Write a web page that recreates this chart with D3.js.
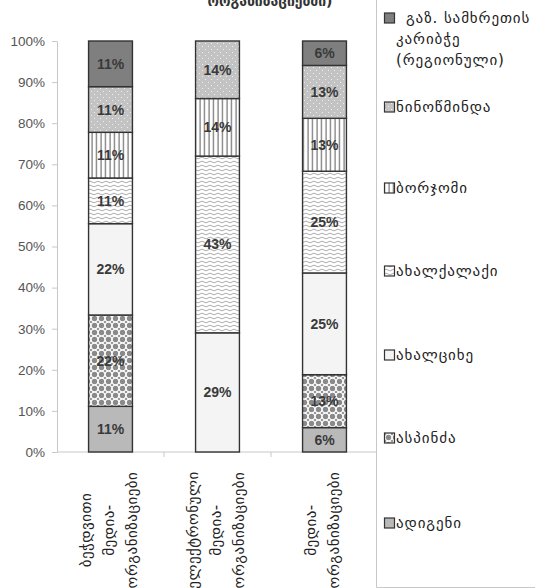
<!DOCTYPE html>
<html><head><meta charset="utf-8">
<script src="https://cdn.jsdelivr.net/npm/d3@7"></script>
<style>
html,body{margin:0;padding:0;background:#fff;}
svg{display:block;}
</style></head>
<body>
<svg id="chart" width="535" height="588"></svg>
<script>
// ---- data ----
const title = "ორგანიზაციებში)";
const categories = [
  ["ბეჭდვითი", "მედია-", "ორგანიზაციები"],
  ["ელექტრონული", "მედია-", "ორგანიზაციები"],
  ["მედია-", "ორგანიზაციები"]
];
// series listed bottom of stack -> top
const seriesNames = ["ადიგენი", "ასპინძა", "ახალციხე", "ახალქალაქი", "ბორჯომი", "ნინოწმინდა", "გაზ. სამხრეთის კარიბჭე (რეგიონული)"];
const adigeni     = [11, 0, 6];
const aspindza    = [22, 0, 13];
const akhaltsikhe = [22, 29, 25];
const akhalkalaki = [11, 43, 25];
const borjomi     = [11, 14, 13];
const ninotsminda = [11, 14, 13];
const samkhretis  = [11, 0, 6];
const seriesValues = [adigeni, aspindza, akhaltsikhe, akhalkalaki, borjomi, ninotsminda, samkhretis];
const yTicks = [0, 0.1, 0.2, 0.3, 0.4, 0.5, 0.6, 0.7, 0.8, 0.9, 1.0];

// ---- build ----
const svg = d3.select("#chart");
const geo = "'DejaVu Sans',sans-serif";
const defs = svg.append("defs");

function pat(id, w, h, bg) {
  const p = defs.append("pattern").attr("id", id).attr("patternUnits", "userSpaceOnUse")
    .attr("width", w).attr("height", h);
  p.append("rect").attr("width", w).attr("height", h).attr("fill", bg);
  return p;
}
pat("p6", 4, 4, "#7f7f7f");
{ const p = pat("p5", 6, 6, "#c3c3c3");
  p.append("rect").attr("x", 1).attr("y", 1).attr("width", 1).attr("height", 1).attr("fill", "#eeeeee");
  p.append("rect").attr("x", 4).attr("y", 4).attr("width", 1).attr("height", 1).attr("fill", "#eeeeee"); }
{ const p = pat("p4", 4.5, 4, "#ffffff");
  p.append("rect").attr("x", 1.5).attr("y", 0).attr("width", 1).attr("height", 4).attr("fill", "#555"); }
{ const p = pat("p3", 8, 4, "#ffffff");
  p.append("path").attr("d", "M0,2 Q2,0.3 4,2 T8,2").attr("fill", "none").attr("stroke", "#959595").attr("stroke-width", 0.8); }
pat("p2", 4, 4, "#f4f4f4");
{ const p = pat("p1", 7, 7, "#ffffff");
  p.append("circle").attr("cx", 3.5).attr("cy", 3.5).attr("r", 2.7).attr("fill", "#8a8a8a");
  [[0,0],[7,0],[0,7],[7,7]].forEach(([cx,cy]) =>
    p.append("circle").attr("cx", cx).attr("cy", cy).attr("r", 1.3).attr("fill", "#9a9a9a")); }
pat("p0", 4, 4, "#b9b9b9");

const fills = ["url(#p0)", "url(#p1)", "url(#p2)", "url(#p3)", "url(#p4)", "url(#p5)", "url(#p6)"];

const x = d3.scaleBand().domain(d3.range(categories.length)).range([57, 378])
  .paddingInner(0.59).paddingOuter(0.295);
const y = d3.scaleLinear().domain([0, 1]).range([452, 41]);

// title (cut off at top, as in the reference)
svg.append("text").attr("x", 270).attr("y", 6).attr("text-anchor", "middle")
  .attr("font-family", geo).attr("font-weight", "bold").attr("font-size", 14).attr("fill", "#333")
  .text(title);

// y axis
const yAxis = svg.append("g").attr("transform", "translate(57,0)")
  .call(d3.axisLeft(y).tickValues(yTicks).tickFormat(d3.format(".0%")).tickSize(5).tickSizeOuter(0).tickPadding(7));
yAxis.select(".domain").attr("stroke", "#c8c8c8");
yAxis.selectAll(".tick line").attr("stroke", "#c8c8c8");
yAxis.selectAll(".tick text").attr("font-family", "'Liberation Sans',Arial,sans-serif").attr("font-size", 13.5).attr("fill", "#555");

// x baseline
svg.append("line").attr("x1", 57).attr("x2", 377).attr("y1", 452).attr("y2", 452).attr("stroke", "#c8c8c8");
const bounds = d3.range(categories.length + 1).map(i => 57 + i * x.step());
svg.selectAll(".xt").data(bounds.slice(1, -1)).join("line")
  .attr("x1", d => d).attr("x2", d => d).attr("y1", 452).attr("y2", 457).attr("stroke", "#c8c8c8");

// stack
const rows = categories.map((c, i) => {
  const r = {};
  seriesNames.forEach((s, k) => r[s] = seriesValues[k][i]);
  return r;
});
const stack = d3.stack().keys(seriesNames).offset(d3.stackOffsetExpand);
const layers = stack(rows);

const g = svg.append("g");
layers.forEach((layer, k) => {
  layer.forEach((d, i) => {
    const v = seriesValues[k][i];
    if (!v) return;
    g.append("rect").attr("x", x(i)).attr("width", x.bandwidth())
      .attr("y", y(d[1])).attr("height", y(d[0]) - y(d[1]))
      .attr("fill", fills[k]).attr("stroke", "#333").attr("stroke-width", 1.4);
  });
});
layers.forEach((layer, k) => {
  layer.forEach((d, i) => {
    const v = seriesValues[k][i];
    if (!v) return;
    g.append("text").attr("x", x(i) + x.bandwidth() / 2).attr("y", (y(d[0]) + y(d[1])) / 2)
      .attr("dy", "0.36em").attr("text-anchor", "middle")
      .attr("font-family", "'Liberation Sans',Arial,sans-serif").attr("font-weight", "bold")
      .attr("font-size", 14).attr("fill", "#3a3a3a").text(v + "%");
  });
});

// category labels (rotated)
categories.forEach((lines, i) => {
  const cx = x(i) + x.bandwidth() / 2 - 2;
  const n = lines.length;
  lines.forEach((ln, j) => {
    const lx = cx + (j - (n - 1) / 2) * 23;
    svg.append("text").attr("transform", `translate(${lx},530) rotate(-90)`)
      .attr("text-anchor", "middle").attr("dy", "0.35em")
      .attr("font-family", geo).attr("font-size", 15).attr("letter-spacing", 0.5).attr("fill", "#222").text(ln);
  });
});

// legend frame
svg.append("line").attr("x1", 376.5).attr("x2", 376.5).attr("y1", 0).attr("y2", 587.5).attr("stroke", "#c8c8c8");
svg.append("line").attr("x1", 376.5).attr("x2", 535).attr("y1", 587.5).attr("y2", 587.5).attr("stroke", "#c8c8c8");

// legend items, top to bottom
const legendY = [18, 107, 188, 271, 355, 438, 523];
const legendOrder = d3.range(seriesNames.length).reverse();
legendOrder.forEach((k, idx) => {
  const yy = legendY[idx];
  svg.append("rect").attr("x", 384.5).attr("y", yy - 5).attr("width", 10).attr("height", 10)
    .attr("fill", fills[k]).attr("stroke", "#333").attr("stroke-width", 1.2);
  const t = svg.append("text").attr("font-family", geo).attr("font-size", 15).attr("letter-spacing", 0.9).attr("fill", "#222");
  if (k === 6) {
    const parts = ["გაზ. სამხრეთის", "კარიბჭე", "(რეგიონული)"];
    parts.forEach((p, j) => {
      t.append("tspan").attr("x", j === 0 ? 406 : 396).attr("y", yy + j * 21).attr("dy", "0.35em").text(p);
    });
  } else {
    t.attr("x", 396).attr("y", yy).attr("dy", "0.35em").text(seriesNames[k]);
  }
});
</script>
</body></html>
